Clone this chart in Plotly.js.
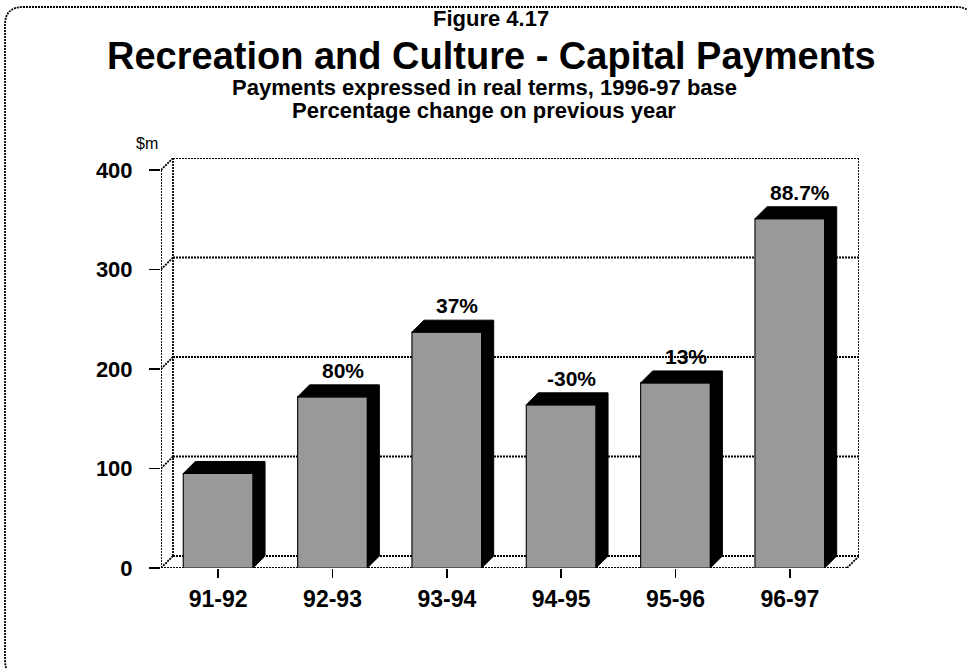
<!DOCTYPE html>
<html>
<head>
<meta charset="utf-8">
<script src="https://cdn.plot.ly/plotly-3.0.1.min.js"></script>
<style>html,body{margin:0;padding:0;background:#fff;}#chart{width:967px;height:668px;}</style>
</head>
<body>
<div id="chart"></div>
<script>
// ---- data ----
const categories = ["91-92", "92-93", "93-94", "94-95", "95-96", "96-97"];
const payments = [95, 172, 237, 164, 186, 351];           // $m, real terms 1996-97 base
const changeLabels = ["", "80%", "37%", "-30%", "13%", "88.7%"];
const yTicks = [0, 100, 200, 300, 400];

// ---- geometry (pixels) ----
const W = 967, H = 668;
const L = 161, R = 859, T = 158, B = 568;
const depthPx = 12;
const xMin = -0.5, xFrontMax = categories.length - 0.5;
const pxPerX = 686 / categories.length;
const dxu = depthPx / pxPerX;
const xMax = xFrontMax + dxu;
const pxPerY = 398 / 400;
const dyu = depthPx / pxPerY;
const yMax = 400 + dyu;
const barW = 0.61;
const FONT = "Liberation Sans, Arial, sans-serif";
const DOT = "2px,1px";

const xi = categories.map((c, i) => i);

// black top + side faces
const polyX = [], polyY = [];
xi.forEach((i) => {
  const v = payments[i], x0 = i - barW / 2, x1 = i + barW / 2;
  polyX.push(x0, x0 + dxu, x1 + dxu, x1 + dxu, x1, x1, x0, null);
  polyY.push(v, v + dyu, v + dyu, dyu, 0, v, v, null);
});

const traces = [
  {type: "bar", x: xi, y: payments, width: barW,
   marker: {color: "#999999", line: {color: "#111", width: 1.2}},
   hoverinfo: "skip", showlegend: false},
  {type: "scatter", mode: "lines", x: polyX, y: polyY, fill: "toself",
   fillcolor: "#000", line: {color: "#000", width: 1}, hoverinfo: "skip",
   showlegend: false, connectgaps: false}
];

// walls & gridlines
const ln = {color: "#000", width: 1.8, dash: DOT};
const shapes = [];
function seg(x0, y0, x1, y1) {
  shapes.push({type: "line", xref: "x", yref: "y", x0, y0, x1, y1, line: ln, layer: "below"});
}
seg(xMin, 0, xMin, 400);
seg(xMin + dxu, dyu, xMin + dxu, 400 + dyu);
seg(xMax, dyu, xMax, 400 + dyu);
seg(xMin, 0, xFrontMax, 0);
seg(xFrontMax, 0, xMax, dyu);
yTicks.forEach((v) => {
  seg(xMin, v, xMin + dxu, v + dyu);
  seg(xMin + dxu, v + dyu, xMax, v + dyu);
});

// outer rounded frame (pixel -> paper)
const pX = (x) => (x - L) / (R - L);
const pY = (y) => (B - y) / (B - T);
(function () {
  const x0 = 5, y0 = 7, x1 = 974, y1 = 678, r = 18;
  const P = (x, y) => pX(x) + "," + pY(y);
  const path = "M" + P(x0 + r, y0) + " L" + P(x1 - r, y0) + " Q" + P(x1, y0) + " " + P(x1, y0 + r) +
    " L" + P(x1, y1 - r) + " Q" + P(x1, y1) + " " + P(x1 - r, y1) +
    " L" + P(x0 + r, y1) + " Q" + P(x0, y1) + " " + P(x0, y1 - r) +
    " L" + P(x0, y0 + r) + " Q" + P(x0, y0) + " " + P(x0 + r, y0) + " Z";
  shapes.push({type: "path", xref: "paper", yref: "paper", path, line: {color: "#000", width: 1.8, dash: DOT}, layer: "below"});
})();

const annotations = [];
function txt(text, x, y, size, bold, anchor) {
  annotations.push({text: bold ? "<b>" + text + "</b>" : text, xref: "paper", yref: "paper",
    x: pX(x), y: pY(y), xanchor: anchor || "center", yanchor: "middle", showarrow: false,
    font: {family: FONT, size, color: "#000"}});
}
txt("Figure 4.17", 491, 19, 22, true);
txt("Recreation and Culture - Capital Payments", 491, 56, 38, true);
txt("Payments expressed in real terms, 1996-97 base", 484, 87, 22, true);
txt("Percentage change on previous year", 484, 111, 22, true);
txt("$m", 147, 143, 16, false);

xi.forEach((i) => {
  if (!changeLabels[i]) return;
  annotations.push({text: "<b>" + changeLabels[i] + "</b>", x: i + 0.09, y: payments[i] + dyu,
    xref: "x", yref: "y", xanchor: "center", yanchor: "bottom", yshift: 1, showarrow: false,
    font: {family: FONT, size: 21, color: "#000"}});
});

const layout = {
  width: W, height: H,
  margin: {l: L, r: W - R, t: T, b: H - B, pad: 0},
  paper_bgcolor: "#fff", plot_bgcolor: "rgba(0,0,0,0)",
  showlegend: false,
  xaxis: {range: [xMin, xMax], tickvals: xi, ticktext: categories, showgrid: false,
    zeroline: false, showline: false, ticks: "outside", ticklen: 9, tickwidth: 1.5,
    tickcolor: "#000", ticklabelstandoff: 1,
    tickfont: {family: FONT, size: 23, color: "#000", weight: "bold"}, fixedrange: true},
  yaxis: {range: [0, yMax], tickvals: yTicks, showgrid: false, zeroline: false,
    showline: false, ticks: "outside", ticklen: 11, tickwidth: 1.5, tickcolor: "#000",
    ticklabelstandoff: 12,
    tickfont: {family: FONT, size: 22, color: "#000", weight: "bold"}, fixedrange: true},
  shapes, annotations
};

Plotly.newPlot("chart", traces, layout, {displayModeBar: false, staticPlot: true});
</script>
</body>
</html>
